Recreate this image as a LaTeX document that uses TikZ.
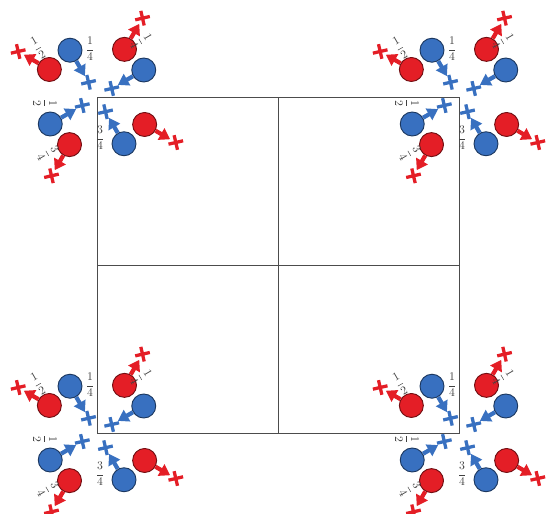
\documentclass[tikz,border=0pt]{standalone}
\usepackage{amsmath}
\usetikzlibrary{arrows.meta,shapes.misc}
\definecolor{pinred}{RGB}{228,30,38}
\definecolor{pinblue}{RGB}{56,112,192}
\begin{document}
\begin{tikzpicture}[x=0.03cm,y=0.03cm,
    pin/.style={circle,line width=0.8pt,minimum size=0.72cm,inner sep=0pt},
    bluepin/.style={pin,draw=pinblue!50!black,fill=pinblue},
    redpin/.style={pin,draw=pinred!50!black,fill=pinred},
    crossmark/.style={cross out,draw,line width=2.8pt,minimum size=0.22cm,inner sep=0pt,rotate=58},
    shaft/.style={line width=3.6pt,-{Triangle[length=9pt,width=11pt]},shorten >=1pt},
    turn/.style={text=black!75,font=\normalsize,inner sep=0pt}]
        \useasboundingbox (0,0) rectangle (548,514);
        %% Board
        \draw[black!70,line width=0.6pt] (97,81) rectangle (459,417);
        \draw[black!70,line width=0.6pt] (278,81) -- (278,417);
        \draw[black!70,line width=0.6pt] (97,249) -- (459,249);
        %% Pins at each corner
        \foreach \cx/\cy [count=\k] in {97/417,459/417,97/81,459/81} {
            \begin{scope}[shift={(\cx,\cy)}]
                %% Blue pins point in
                \foreach \a in {30,120,210,300} {
                    \node[bluepin] (b\k-\a) at (\a:54) {};
                    \node[crossmark,draw=pinblue] (bx\k-\a) at (\a:17) {};
                    \draw[shaft,pinblue] (b\k-\a) -- (bx\k-\a);
                }
                %% Red pins point out
                \foreach \a in {60,150,240,330} {
                    \node[redpin] (r\k-\a) at (\a:55) {};
                    \node[crossmark,draw=pinred] (rx\k-\a) at (\a:91) {};
                    \draw[shaft,pinred] (r\k-\a) -- (rx\k-\a);
                }
                %% Turns
                \node[turn,rotate=30] (t\k-150) at (-59,49) {$\dfrac{1}{2}$};
                \node[turn] (t\k-120) at (-7,48) {$\dfrac{1}{4}$};
                \node[turn,rotate=-60] (t\k-60) at (44,56) {$\dfrac{1}{4}$};
                \node[turn,rotate=-90] (t\k-210) at (-52,-6) {$\dfrac{1}{2}$};
                \node[turn,rotate=-60] (t\k-240) at (-49,-56) {$\dfrac{3}{4}$};
                \node[turn] (t\k-300) at (3,-41) {$\dfrac{3}{4}$};
            \end{scope}
        }
\end{tikzpicture}
\end{document}
